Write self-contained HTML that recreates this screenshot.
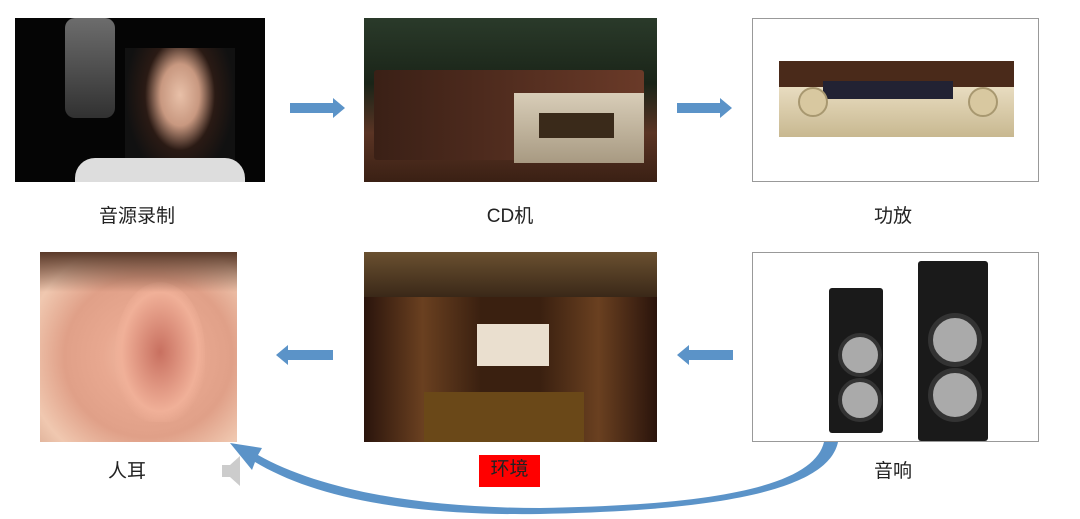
<!DOCTYPE html>
<html><head><meta charset="utf-8"><style>
body{margin:0;width:1080px;height:519px;background:#fff;position:relative;overflow:hidden;font-family:"Liberation Sans","Noto Sans CJK SC",sans-serif}
.b{position:absolute}
.l{position:absolute;font-size:19px;color:#222;text-align:center;width:160px}
</style></head><body>
<!-- singer -->
<div class="b" style="left:15px;top:18px;width:250px;height:164px;background:#050505">
 <div class="b" style="left:50px;top:0;width:50px;height:100px;background:linear-gradient(#999,#444);border-radius:10px;opacity:.7"></div>
 <div class="b" style="left:110px;top:30px;width:110px;height:134px;background:radial-gradient(ellipse at 50% 35%,#e8c0a8 0,#c89880 25%,#2a1a14 45%,#111 70%)"></div>
 <div class="b" style="left:60px;top:140px;width:170px;height:24px;background:#ddd;border-radius:20px 20px 0 0"></div>
</div>
<!-- CD -->
<div class="b" style="left:364px;top:18px;width:293px;height:164px;background:linear-gradient(#2a3a2a,#1a2418 40%,#5a3424 70%,#3a2014)">
 <div class="b" style="left:10px;top:52px;width:270px;height:90px;background:linear-gradient(90deg,#3a2016,#6a3a28);border-radius:3px"></div>
 <div class="b" style="left:150px;top:75px;width:130px;height:70px;background:linear-gradient(#d8cdb8,#a89a82)"></div>
 <div class="b" style="left:175px;top:95px;width:75px;height:25px;background:#3a2a1a"></div>
</div>
<!-- amp -->
<div class="b" style="left:752px;top:18px;width:285px;height:162px;background:#fff;border:1px solid #999">
 <div class="b" style="left:26px;top:42px;width:235px;height:28px;background:#4a2a1a"></div>
 <div class="b" style="left:26px;top:68px;width:235px;height:50px;background:linear-gradient(#e8dcc0,#c8b890)"></div>
 <div class="b" style="left:70px;top:62px;width:130px;height:18px;background:#223"></div>
 <div class="b" style="left:45px;top:68px;width:26px;height:26px;border-radius:50%;background:#d8c8a0;border:2px solid #a89870"></div>
 <div class="b" style="left:215px;top:68px;width:26px;height:26px;border-radius:50%;background:#d8c8a0;border:2px solid #a89870"></div>
</div>
<div class="l" style="left:57px;top:201px">音源录制</div>
<div class="l" style="left:430px;top:201px">CD机</div>
<div class="l" style="left:813px;top:201px">功放</div>
<!-- ear -->
<div class="b" style="left:40px;top:252px;width:197px;height:190px;background:radial-gradient(ellipse at 55% 55%,#f4c0a8 0,#e8a890 30%,#e0a088 55%,#f0c8b0 80%,#d8a890)">
 <div class="b" style="left:75px;top:30px;width:90px;height:140px;border-radius:50% 50% 40% 40%;background:radial-gradient(ellipse at 50% 50%,#c87060,#f0b098 60%,transparent 75%)"></div>
 <div class="b" style="left:0;top:0;width:197px;height:40px;background:linear-gradient(#5a3a2a,transparent)"></div>
</div>
<!-- theater -->
<div class="b" style="left:364px;top:252px;width:293px;height:190px;background:linear-gradient(90deg,#2a140c,#6a4020 20%,#3a2010 40%,#3a2010 60%,#6a4020 80%,#2a140c)">
 <div class="b" style="left:0;top:0;width:293px;height:45px;background:linear-gradient(#6a5030,#3a2818)"></div>
 <div class="b" style="left:113px;top:72px;width:72px;height:42px;background:#eadfcf"></div>
 <div class="b" style="left:60px;top:140px;width:160px;height:50px;background:#6a4818"></div>
</div>
<!-- speakers -->
<div class="b" style="left:752px;top:252px;width:285px;height:188px;background:#fff;border:1px solid #999">
 <div class="b" style="left:76px;top:35px;width:54px;height:145px;background:#1a1a1a;border-radius:3px"></div>
 <div class="b" style="left:85px;top:80px;width:36px;height:36px;border-radius:50%;background:#aaa;border:4px solid #333"></div>
 <div class="b" style="left:85px;top:125px;width:36px;height:36px;border-radius:50%;background:#aaa;border:4px solid #333"></div>
 <div class="b" style="left:165px;top:8px;width:70px;height:180px;background:#1a1a1a;border-radius:3px"></div>
 <div class="b" style="left:175px;top:60px;width:44px;height:44px;border-radius:50%;background:#aaa;border:5px solid #333"></div>
 <div class="b" style="left:175px;top:115px;width:44px;height:44px;border-radius:50%;background:#aaa;border:5px solid #333"></div>
</div>
<div class="l" style="left:47px;top:456px">人耳</div>
<div class="b" style="left:479px;top:455px;width:61px;height:32px;background:#f00;font-size:19px;color:#222;text-align:center;line-height:30px">环境</div>
<div class="l" style="left:813px;top:456px">音响</div>
<svg class="b" style="left:0;top:0" width="1080" height="519">
 <g fill="#5b93c8">
  <polygon points="290,103 333,103 333,98 345,108 333,118 333,113 290,113"/>
  <polygon points="677,103 720,103 720,98 732,108 720,118 720,113 677,113"/>
  <polygon points="333,350 288,350 288,345 276,355 288,365 288,360 333,360"/>
  <polygon points="733,350 689,350 689,345 677,355 689,365 689,360 733,360"/>
  <path d="M824,442 L838,442 C830,480 760,510 540,514 C400,516 310,495 255,462 L252,470 L230,443 L262,448 L258,455 C320,490 420,508 540,508 C740,505 815,480 824,442 Z"/>
 </g>
 <path d="M222,465 L230,465 L240,456 L240,486 L230,477 L222,477 Z" fill="#ccc"/>
</svg>
</body></html>
